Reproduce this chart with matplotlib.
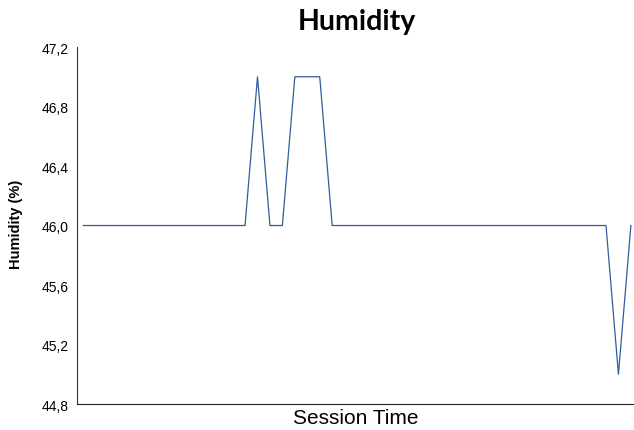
import matplotlib
matplotlib.use('Agg')
import matplotlib.pyplot as plt
from matplotlib.ticker import FuncFormatter

# humidity readings per session sample (%)
humidity = [46] * 14 + [47, 46, 46, 47, 47, 47] + [46] * 23 + [45, 46]
y_ticks = [44.8, 45.2, 45.6, 46.0, 46.4, 46.8, 47.2]

fig = plt.figure(figsize=(6.34, 4.31), dpi=100)
ax = fig.add_axes([0.1215, 0.0603, 0.8785, 0.8283])

ax.plot(range(len(humidity)), humidity, color='#2f5d9c', linewidth=0.9)

ax.set_xlim(-0.5, len(humidity) - 1 + 0.25)
ax.set_ylim(44.8, 47.2)
ax.set_yticks(y_ticks)
ax.yaxis.set_major_formatter(FuncFormatter(lambda v, _: f"{v:.1f}".replace('.', ',')))
ax.set_xticks([])

for side in ('top', 'right'):
    ax.spines[side].set_visible(False)
ax.spines['left'].set_color('#333333')
ax.spines['bottom'].set_color('#222222')
ax.tick_params(axis='y', length=0, pad=6, labelsize=10)
for lbl in ax.get_yticklabels():
    lbl.set_family(['Liberation Sans', 'DejaVu Sans'])

fig.text(0.5615, 0.028, 'Session Time', ha='center', va='center',
         fontsize=15, family=['Liberation Sans', 'DejaVu Sans'])
fig.text(0.026, 0.48, 'Humidity (%)', rotation=90, ha='center', va='center',
         fontsize=10.5, fontweight='bold', family=['Liberation Sans', 'DejaVu Sans'])
fig.text(0.563, 0.949, 'Humidity', ha='center', va='center',
         fontsize=20.5, fontweight='bold', family=['Lato', 'DejaVu Sans'])

fig.savefig('out.png', dpi=100)
